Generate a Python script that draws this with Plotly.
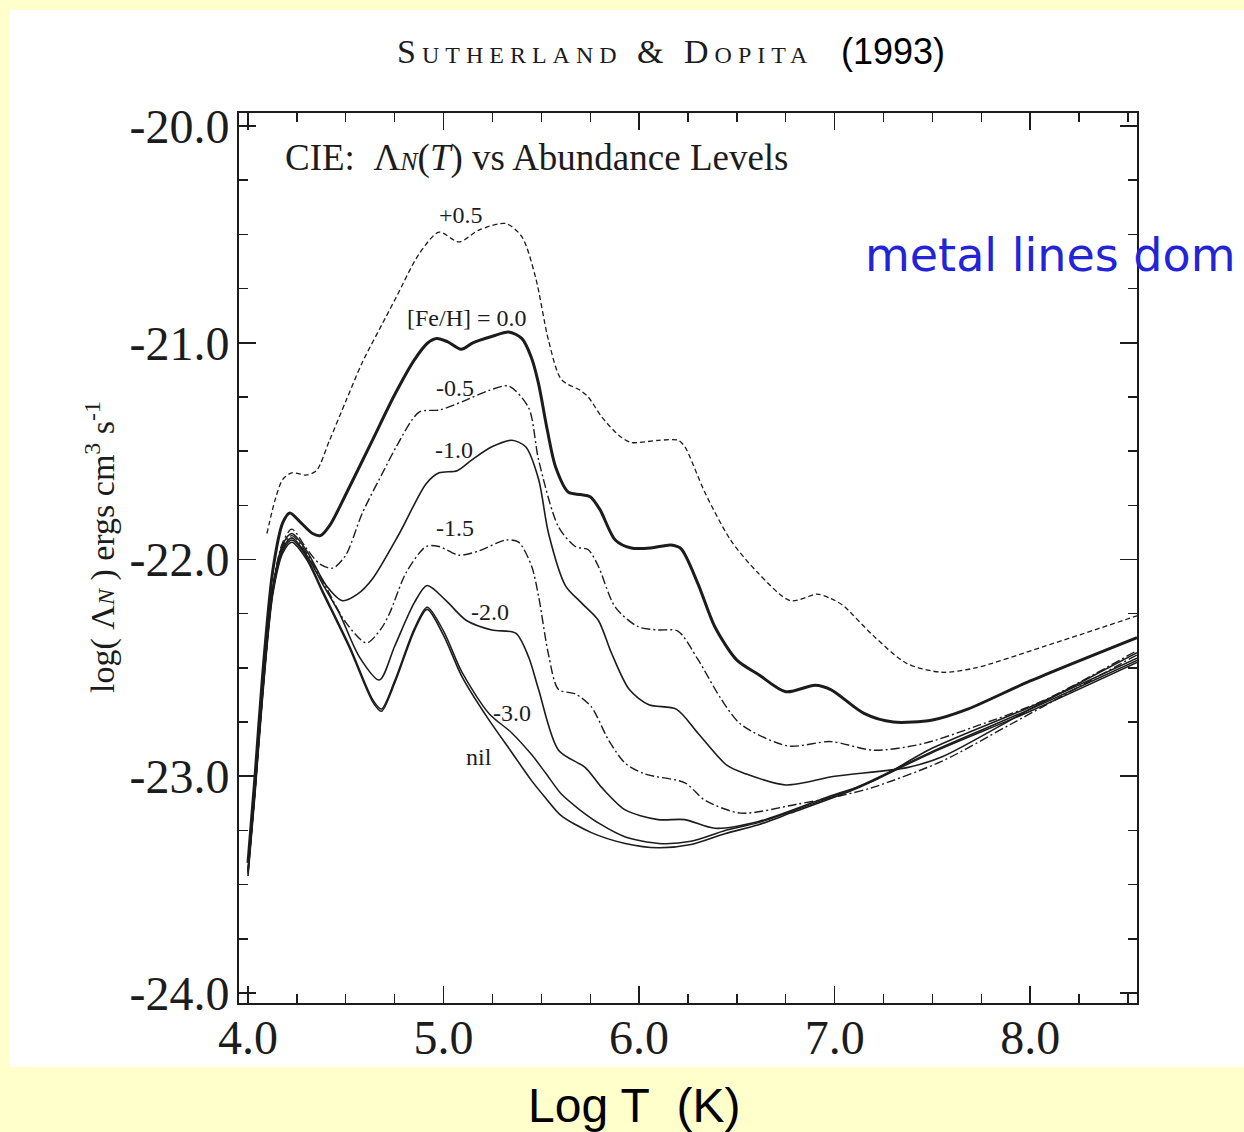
import plotly.graph_objects as go

# ---- cooling curves: log T (K) vs log(Lambda_N) for several [Fe/H] ----
logt_p05 = [4.097, 4.14, 4.178, 4.224, 4.30, 4.35, 4.417, 4.50, 4.585, 4.70, 4.758, 4.875, 4.977,
            5.079, 5.181, 5.318, 5.40, 5.471, 5.537, 5.603, 5.70, 5.74, 5.807, 5.90, 5.96, 6.10,
            6.20, 6.234, 6.336, 6.468, 6.606, 6.774, 6.91, 6.98, 7.04, 7.196, 7.37, 7.547, 7.72,
            8.074, 8.546]
lam_p05 = [-21.88, -21.72, -21.63, -21.60, -21.61, -21.59, -21.45, -21.27, -21.09, -20.89, -20.79,
           -20.59, -20.49, -20.535, -20.48, -20.45, -20.51, -20.70, -20.99, -21.17, -21.22, -21.25,
           -21.34, -21.43, -21.46, -21.45, -21.45, -21.48, -21.69, -21.91, -22.06, -22.19, -22.16,
           -22.18, -22.21, -22.35, -22.48, -22.52, -22.50, -22.40, -22.26]

logt_00 = [4.00, 4.036, 4.076, 4.127, 4.178, 4.214, 4.27, 4.33, 4.37, 4.42, 4.50, 4.636, 4.75,
           4.85, 4.92, 4.965, 5.02, 5.09, 5.15, 5.25, 5.333, 5.40, 5.45, 5.486, 5.53, 5.573,
           5.639, 5.70, 5.75, 5.80, 5.878, 5.96, 6.06, 6.163, 6.214, 6.30, 6.387, 6.50, 6.61,
           6.75, 6.90, 6.98, 7.15, 7.30, 7.50, 7.68, 8.00, 8.546]
lam_00 = [-23.40, -23.00, -22.52, -22.05, -21.83, -21.785, -21.83, -21.88, -21.89, -21.84, -21.70,
          -21.45, -21.24, -21.08, -21.00, -20.98, -20.995, -21.03, -21.00, -20.97, -20.95, -20.98,
          -21.07, -21.19, -21.40, -21.573, -21.69, -21.70, -21.71, -21.77, -21.91, -21.947,
          -21.947, -21.933, -21.95, -22.11, -22.31, -22.464, -22.53, -22.61, -22.58, -22.60,
          -22.71, -22.75, -22.74, -22.69, -22.56, -22.36]

logt_m05 = [4.00, 4.036, 4.076, 4.127, 4.178, 4.224, 4.30, 4.366, 4.433, 4.50, 4.585, 4.70, 4.758,
            4.875, 4.98, 5.10, 5.232, 5.333, 5.435, 5.486, 5.588, 5.674, 5.74, 5.791, 5.878,
            5.995, 6.097, 6.198, 6.30, 6.417, 6.52, 6.76, 6.98, 7.20, 7.45, 7.72, 8.07, 8.546]
lam_m05 = [-23.43, -23.05, -22.58, -22.12, -21.92, -21.86, -21.95, -22.02, -22.04, -21.98, -21.785,
           -21.58, -21.48, -21.32, -21.31, -21.27, -21.22, -21.20, -21.30, -21.54, -21.85, -21.94,
           -21.955, -22.03, -22.22, -22.31, -22.325, -22.33, -22.46, -22.64, -22.76, -22.86,
           -22.84, -22.88, -22.85, -22.77, -22.65, -22.42]

logt_m10 = [4.00, 4.036, 4.076, 4.127, 4.178, 4.224, 4.30, 4.40, 4.483, 4.56, 4.636, 4.774, 4.911,
            4.977, 5.07, 5.145, 5.247, 5.349, 5.42, 5.486, 5.537, 5.623, 5.705, 5.791, 5.858,
            5.95, 6.05, 6.19, 6.30, 6.45, 6.55, 6.75, 7.00, 7.37, 7.55, 8.00, 8.546]
lam_m10 = [-23.44, -23.06, -22.59, -22.13, -21.93, -21.88, -21.96, -22.12, -22.19, -22.16, -22.09,
           -21.88, -21.65, -21.60, -21.59, -21.54, -21.48, -21.45, -21.48, -21.63, -21.88, -22.12,
           -22.20, -22.28, -22.43, -22.60, -22.67, -22.69, -22.80, -22.95, -22.99, -23.04, -23.00,
           -22.96, -22.91, -22.69, -22.43]

logt_m15 = [4.00, 4.036, 4.076, 4.127, 4.178, 4.224, 4.30, 4.40, 4.50, 4.606, 4.68, 4.723, 4.809,
            4.911, 4.977, 5.079, 5.181, 5.318, 5.384, 5.45, 5.486, 5.537, 5.588, 5.674, 5.756,
            5.842, 5.929, 6.031, 6.234, 6.336, 6.52, 6.80, 7.03, 7.20, 7.55, 7.90, 8.546]
lam_m15 = [-23.44, -23.06, -22.60, -22.14, -21.94, -21.89, -21.97, -22.13, -22.29, -22.385, -22.32,
           -22.25, -22.06, -21.94, -21.94, -21.98, -21.96, -21.91, -21.92, -22.03, -22.17, -22.44,
           -22.60, -22.62, -22.68, -22.83, -22.94, -22.99, -23.03, -23.11, -23.17, -23.13, -23.09,
           -23.05, -22.93, -22.76, -22.44]

logt_m20 = [4.00, 4.036, 4.076, 4.127, 4.178, 4.224, 4.30, 4.38, 4.468, 4.57, 4.672, 4.75, 4.85,
            4.916, 5.013, 5.115, 5.247, 5.369, 5.435, 5.486, 5.588, 5.725, 5.807, 5.929, 6.097,
            6.234, 6.387, 6.606, 6.95, 7.20, 7.50, 8.00, 8.546]
lam_m20 = [-23.44, -23.06, -22.60, -22.14, -21.95, -21.90, -21.98, -22.11, -22.25, -22.45, -22.556,
           -22.40, -22.20, -22.12, -22.19, -22.28, -22.325, -22.34, -22.45, -22.60, -22.88, -22.96,
           -23.05, -23.155, -23.20, -23.20, -23.24, -23.21, -23.10, -23.02, -22.87, -22.68, -22.455]

logt_m30 = [4.00, 4.036, 4.076, 4.127, 4.178, 4.224, 4.30, 4.38, 4.52, 4.64, 4.682, 4.75, 4.85,
            4.916, 5.00, 5.094, 5.232, 5.349, 5.45, 5.522, 5.60, 5.69, 5.80, 5.93, 6.10, 6.265,
            6.44, 6.606, 6.77, 7.115, 7.50, 8.00, 8.546]
lam_m30 = [-23.45, -23.07, -22.61, -22.15, -21.96, -21.91, -21.99, -22.14, -22.40, -22.65, -22.69,
           -22.56, -22.32, -22.22, -22.33, -22.52, -22.71, -22.80, -22.90, -22.985, -23.08, -23.15,
           -23.22, -23.28, -23.31, -23.30, -23.25, -23.215, -23.165, -23.05, -22.885, -22.69,
           -22.465]

logt_nil = [4.00, 4.036, 4.076, 4.127, 4.178, 4.224, 4.30, 4.38, 4.52, 4.64, 4.682, 4.75, 4.85,
            4.916, 5.00, 5.094, 5.232, 5.349, 5.45, 5.522, 5.60, 5.756, 5.929, 6.097, 6.265,
            6.438, 6.606, 6.774, 7.115, 7.50, 8.00, 8.546]
lam_nil = [-23.46, -23.08, -22.62, -22.16, -21.97, -21.92, -22.00, -22.15, -22.41, -22.66, -22.70,
           -22.57, -22.33, -22.23, -22.35, -22.54, -22.74, -22.89, -23.02, -23.10, -23.18, -23.26,
           -23.31, -23.33, -23.315, -23.265, -23.225, -23.17, -23.055, -22.89, -22.70, -22.475]

# curve labels: text, log T, log Lambda
label_text = ["+0.5", "[Fe/H] = 0.0", "-0.5", "-1.0", "-1.5", "-2.0", "-3.0", "nil"]
label_x = [5.09, 5.12, 5.06, 5.055, 5.06, 5.235, 5.35, 5.18]
label_y = [-20.41, -20.886, -21.21, -21.495, -21.855, -22.24, -22.71, -22.91]

x_major = [4.0, 5.0, 6.0, 7.0, 8.0]
x_major_text = ["4.0", "5.0", "6.0", "7.0", "8.0"]
y_major = [-20.0, -21.0, -22.0, -23.0, -24.0]
y_major_text = ["-20.0", "-21.0", "-22.0", "-23.0", "-24.0"]

SERIF = "Times New Roman, Liberation Serif, serif"
SANS = "Arial, Liberation Sans, sans-serif"
INK = "#1c1c1c"

series = [
    (logt_p05, lam_p05, dict(width=1.3, dash="5px,3px")),
    (logt_00, lam_00, dict(width=3.0)),
    (logt_m05, lam_m05, dict(width=1.4, dash="9px,3px,2px,3px")),
    (logt_m10, lam_m10, dict(width=1.6)),
    (logt_m15, lam_m15, dict(width=1.4, dash="9px,3px,2px,3px")),
    (logt_m20, lam_m20, dict(width=1.6)),
    (logt_m30, lam_m30, dict(width=1.5)),
    (logt_nil, lam_nil, dict(width=1.6)),
]

fig = go.Figure()
for xs, ys, style in series:
    fig.add_trace(go.Scatter(
        x=xs, y=ys, mode="lines",
        line=dict(color=INK, shape="spline", smoothing=0.8, **style),
        hoverinfo="skip", showlegend=False,
    ))

# plot-area pixel frame inside the 1244 x 1132 page
W, H = 1244, 1132
L, R, T, B = 239, 1137, 113, 1003


def px(x, y):
    return (x - L) / (R - L), (B - y) / (B - T)


annotations = []
for t, xv, yv in zip(label_text, label_x, label_y):
    annotations.append(dict(
        x=xv, y=yv, xref="x", yref="y", text=t, showarrow=False,
        font=dict(family=SERIF, size=24, color=INK), xanchor="center", yanchor="middle",
    ))


def page_text(x, y, text, font, **kw):
    ax, ay = px(x, y)
    d = dict(x=ax, y=ay, xref="paper", yref="paper", text=text, showarrow=False,
             font=font, xanchor="center", yanchor="middle")
    d.update(kw)
    annotations.append(d)


page_text(605, 52, "<span style='letter-spacing:6px'>Sutherland &amp; Dopita</span>",
          dict(family=SERIF, size=34, color=INK, variant="small-caps"))
page_text(893, 52, "(1993)", dict(family=SANS, size=36, color="#000000"))
page_text(537, 158, "CIE:\u00a0 Λ<i><span style='font-size:26px'>N</span></i>(<i>T</i>) vs Abundance Levels",
          dict(family=SERIF, size=37, color=INK))
page_text(100, 547, "log( Λ<i><span style='font-size:24px'>N</span></i> ) ergs cm<sup>3</sup> s<sup>-1</sup>",
          dict(family=SERIF, size=34, color=INK), textangle=-90)
page_text(863, 255, "metal lines dom",
          dict(family="Comic Sans MS, DejaVu Sans, sans-serif", size=46, color="#2323d8"),
          xanchor="left")
page_text(634, 1105, "Log T\u00a0 (K)", dict(family=SANS, size=48, color="#000000"))

# white panel over the yellow page
x0, y0 = px(10, 1067)
x1, y1 = px(W + 5, 10)
shapes = [dict(type="rect", xref="paper", yref="paper", x0=x0, y0=y0, x1=x1, y1=y1,
               fillcolor="white", line=dict(width=0), layer="below")]

axis_common = dict(
    showgrid=False, zeroline=False, showline=True, linecolor=INK, linewidth=2,
    mirror="allticks", ticks="inside", ticklen=17, tickwidth=1.6, tickcolor=INK,
    tickfont=dict(family=SERIF, size=48, color=INK),
)

fig.update_layout(
    width=W, height=H,
    margin=dict(l=L, r=W - R, t=T, b=H - B, pad=0),
    paper_bgcolor="#ffffcc", plot_bgcolor="white",
    showlegend=False,
    xaxis=dict(range=[3.954, 8.546], tickmode="array", tickvals=x_major, ticktext=x_major_text,
               minor=dict(tickmode="linear", tick0=4.0, dtick=0.25, ticks="inside", ticklen=9,
                          tickwidth=1.4, tickcolor=INK),
               ticklabelstandoff=-9, **axis_common),
    yaxis=dict(range=[-24.046, -19.94], tickmode="array", tickvals=y_major, ticktext=y_major_text,
               minor=dict(tickmode="linear", tick0=-24.0, dtick=0.25, ticks="inside", ticklen=9,
                          tickwidth=1.4, tickcolor=INK),
               ticklabelstandoff=-2, **axis_common),
    annotations=annotations,
    shapes=shapes,
)

fig.write_html("out.html", config={"displayModeBar": False, "staticPlot": True})
